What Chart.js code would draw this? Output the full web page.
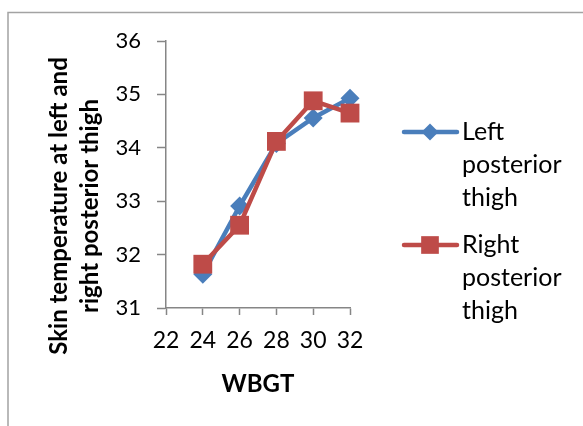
<!DOCTYPE html>
<html>
<head>
<meta charset="utf-8">
<script src="https://cdn.jsdelivr.net/npm/chart.js@4/dist/chart.umd.min.js"></script>
<style>
  html, body { margin: 0; padding: 0; background: #fff; }
  #wrap { width: 583px; height: 426px; position: relative; }
</style>
</head>
<body>
<div id="wrap"><canvas id="chart" width="583" height="426"></canvas></div>
<script>
/* data */
const wbgt = [24, 26, 28, 30, 32];
const leftThigh = [31.63, 32.91, 34.08, 34.56, 34.93];
const rightThigh = [31.82, 32.55, 34.12, 34.88, 34.65];
const seriesNames = ["Left posterior thigh", "Right posterior thigh"];
const yTitle = ["Skin temperature at left and", "right posterior thigh"];
const xTitle = "WBGT";

const BLUE = "#4a7ebb";
const RED = "#be4b48";
const AXIS = "#868686";
const FONT = "Lato";

Chart.defaults.font.family = FONT;
Chart.defaults.color = "#000";

const toPoints = vals => vals.map((v, i) => ({ x: wbgt[i], y: v }));

/* frame, axis titles and the legend on the right */
const decorations = {
  id: "decorations",
  beforeDraw(chart) {
    const c = chart.ctx;
    c.save();
    c.strokeStyle = "#a3a3a3";
    c.lineWidth = 1.5;
    c.strokeRect(8, 12.5, 700, 600);
    c.restore();
  },
  afterDraw(chart) {
    const c = chart.ctx;
    c.save();
    c.fillStyle = "#000";

    // y title, two rotated lines
    c.font = "bold 24px " + FONT;
    c.textAlign = "center";
    c.textBaseline = "middle";
    [59, 90].forEach((x, i) => {
      c.save();
      c.translate(x, 206);
      c.rotate(-Math.PI / 2);
      c.fillText(yTitle[i], 0, 0);
      c.restore();
    });

    // x title
    c.font = "bold 24px " + FONT;
    c.fillText(xTitle, 258, 384);

    // legend
    const rows = [132, 245];
    chart.data.datasets.forEach((ds, i) => {
      const y = rows[i];
      c.strokeStyle = ds.borderColor;
      c.lineWidth = 4.5;
      c.lineCap = "round";
      c.beginPath();
      c.moveTo(404, y);
      c.lineTo(457, y);
      c.stroke();
      c.fillStyle = ds.backgroundColor;
      Chart.helpers.drawPoint(c, {
        pointStyle: ds.pointStyle,
        radius: ds.pointStyle === "rect" ? 12.5 : 8.5,
        borderWidth: 0
      }, 430, y);
      c.fillStyle = "#000";
      c.font = "25px " + FONT;
      c.textAlign = "left";
      ds.label.split(" ").forEach((w, k) => {
        c.fillText(w, 462, y + k * 33);
      });
    });
    c.restore();
  }
};

new Chart(document.getElementById("chart"), {
  type: "line",
  data: {
    datasets: [
      {
        label: seriesNames[0],
        data: toPoints(leftThigh),
        borderColor: BLUE,
        backgroundColor: BLUE,
        borderWidth: 4.5,
        pointStyle: "rectRot",
        pointRadius: 9.5,
        pointBorderWidth: 0,
        order: 1,
        clip: false
      },
      {
        label: seriesNames[1],
        data: toPoints(rightThigh),
        borderColor: RED,
        backgroundColor: RED,
        borderWidth: 4.5,
        pointStyle: "rect",
        pointRadius: 13.3,
        pointBorderWidth: 0,
        order: 0,
        clip: false
      }
    ]
  },
  options: {
    responsive: false,
    animation: false,
    events: [],
    layout: { padding: { left: 0, top: 41, right: 233, bottom: 0 } },
    plugins: {
      legend: { display: false },
      tooltip: { enabled: false }
    },
    scales: {
      x: {
        type: "linear",
        min: 22,
        max: 32,
        ticks: { stepSize: 2, padding: 12, font: { size: 23 } },
        grid: { drawOnChartArea: false, tickLength: 7, color: AXIS, tickWidth: 1.5 },
        border: { color: AXIS, width: 1.5 },
        afterFit: s => { s.height = 118; }
      },
      y: {
        min: 31,
        max: 36,
        ticks: { stepSize: 1, padding: 16, font: { size: 22 } },
        grid: { drawOnChartArea: false, tickLength: 9, color: AXIS, tickWidth: 1.5 },
        border: { color: AXIS, width: 1.5 },
        afterFit: s => { s.width = 166; }
      }
    }
  },
  plugins: [decorations]
});
</script>
</body>
</html>
